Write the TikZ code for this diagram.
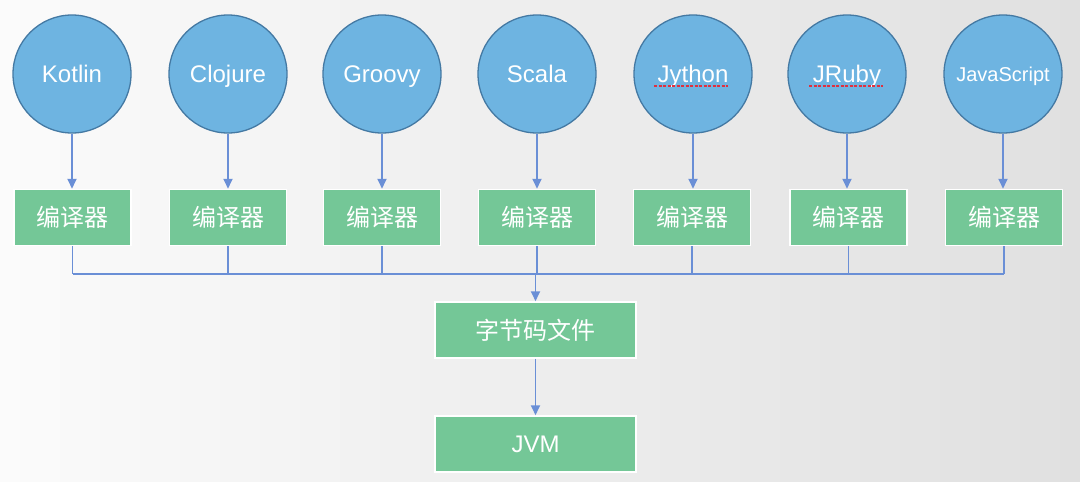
\documentclass[tikz,border=0pt]{standalone}
\usepackage{fontspec}
\setmainfont{Liberation Sans}
\newfontfamily\cjk{Noto Sans CJK SC}
\usetikzlibrary{arrows.meta}
\definecolor{bgL}{HTML}{FBFBFB}
\definecolor{bgR}{HTML}{E0E0E0}
\definecolor{circfill}{HTML}{6EB4E1}
\definecolor{circdraw}{HTML}{4479A3}
\definecolor{boxfill}{HTML}{74C797}
\definecolor{linec}{HTML}{6A8FD6}
\definecolor{squig}{HTML}{E0303F}
\tikzset{
  x=1pt, y=-1pt,
  lang/.style={circle, fill=circfill, draw=circdraw, line width=1.3pt, minimum size=118pt, inner sep=0pt, text=white, font=\fontsize{24}{24}\selectfont, text height=17pt, text depth=0pt},
  comp/.style={rectangle, fill=boxfill, draw=white, line width=1.5pt, minimum width=117pt, minimum height=56pt, inner sep=0pt, text=white, font=\cjk\fontsize{24}{24}\selectfont},
  wide/.style={comp, minimum width=201pt},
  conn/.style={draw=linec, line width=1.8pt},
  arr/.style={conn, -{Triangle[width=9pt,length=10pt]}},
  squiggle/.style={draw=squig, line width=2pt, dash pattern=on 3pt off 1.5pt}
}
\begin{document}
\begin{tikzpicture}
\shade[left color=bgL, right color=bgR] (0,0) rectangle (1080,482);
\useasboundingbox (0,0) rectangle (1080,482);
\foreach \i/\x/\t in {1/72/Kotlin,2/228/Clojure,3/382/Groovy,4/537/Scala,5/693/Jython,6/847/JRuby}{
  \node[lang] (l\i) at (\x,74) {\t};
}
\node[lang, font=\fontsize{20}{20}\selectfont, text height=14.3pt] (l7) at (1003,74) {JavaScript};
\foreach \i/\x in {1/72.5,2/228,3/382,4/537,5/692,6/848.5,7/1004}{
  \node[comp] (b\i) at (\x,217.5) {编译器};
}
\foreach \i in {1,...,7}{
  \draw[arr] (l\i.south) -- (l\i.south |- b\i.north);
}
\coordinate (busL) at (72,274);
\foreach \i in {1,...,7}{
  \draw[conn] (b\i.south) -- (b\i.south |- busL);
}
\draw[conn] (b1.south |- busL) -- (b7.south |- busL);
\node[wide] (byte) at (535.5,330) {字节码文件};
\node[wide, font=\fontsize{24}{24}\selectfont] (jvm) at (535.5,444) {JVM};
\draw[arr] (byte.north |- busL) -- (byte.north);
\draw[arr] (byte.south) -- (jvm.north);
\coordinate (s1a) at (654,86); \coordinate (s1b) at (728,86);
\coordinate (s2a) at (809,86); \coordinate (s2b) at (883,86);
\draw[squiggle] (s1a) -- (s1b);
\draw[squiggle] (s2a) -- (s2b);
\end{tikzpicture}
\end{document}
